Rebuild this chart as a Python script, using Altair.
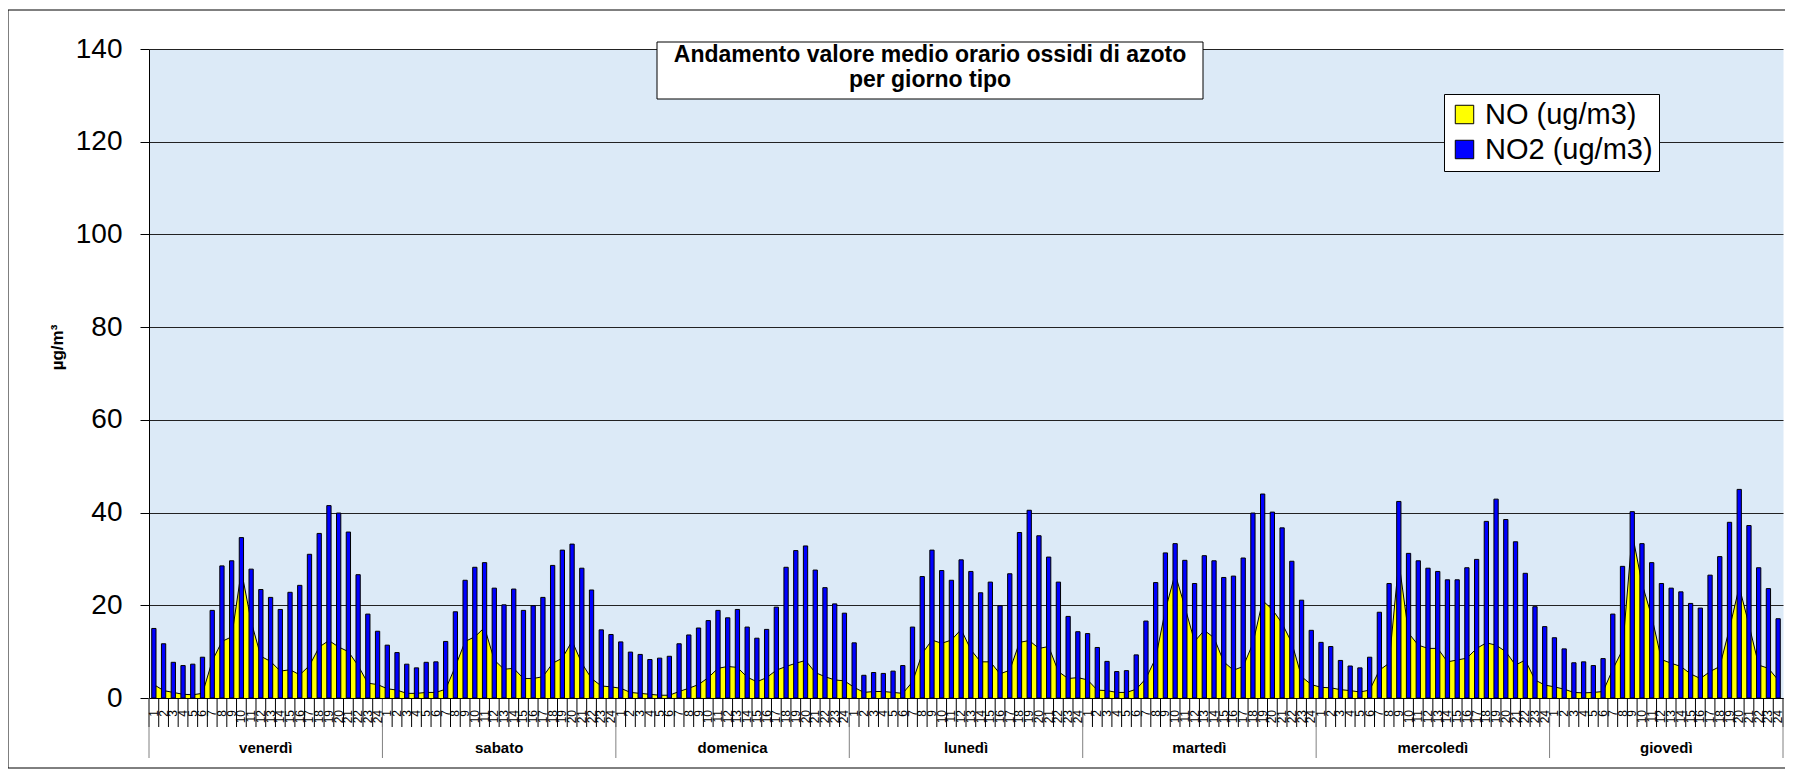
import altair as alt
import pandas as pd

days = ["venerdì", "sabato", "domenica", "lunedì", "martedì", "mercoledì", "giovedì"]
hours = list(range(1, 25))
S_NO = "NO (ug/m3)"
S_NO2 = "NO2 (ug/m3)"

no2_venerdi = [15.0, 11.7, 7.7, 7.0, 7.3, 8.8, 18.9, 28.5, 29.6, 34.6, 27.8, 23.4, 21.7, 19.1, 22.8, 24.3, 31.0, 35.5, 41.5, 39.9, 35.8, 26.6, 18.1, 14.4]
no2_sabato = [11.4, 9.8, 7.3, 6.5, 7.7, 7.8, 12.2, 18.6, 25.4, 28.2, 29.2, 23.7, 20.1, 23.5, 18.9, 19.9, 21.7, 28.6, 31.9, 33.2, 28.0, 23.3, 14.7, 13.7]
no2_domenica = [12.1, 9.9, 9.4, 8.3, 8.6, 9.0, 11.7, 13.6, 15.1, 16.7, 18.9, 17.3, 19.1, 15.3, 12.9, 14.8, 19.6, 28.2, 31.8, 32.8, 27.6, 23.8, 20.3, 18.3]
no2_lunedi = [11.9, 4.9, 5.5, 5.3, 5.8, 7.0, 15.3, 26.2, 31.9, 27.5, 25.4, 29.8, 27.3, 22.7, 25.0, 19.9, 26.8, 35.7, 40.5, 35.0, 30.4, 25.0, 17.6, 14.3]
no2_martedi = [13.9, 10.9, 7.9, 5.7, 5.9, 9.3, 16.6, 24.9, 31.3, 33.3, 29.7, 24.7, 30.7, 29.6, 26.0, 26.3, 30.2, 39.9, 44.0, 40.1, 36.7, 29.5, 21.1, 14.6]
no2_mercoledi = [12.0, 11.1, 8.1, 6.9, 6.5, 8.8, 18.5, 24.7, 42.4, 31.2, 29.6, 28.0, 27.3, 25.5, 25.5, 28.1, 29.9, 38.1, 42.9, 38.5, 33.7, 26.9, 19.7, 15.4]
no2_giovedi = [13.0, 10.6, 7.6, 7.8, 7.0, 8.5, 18.1, 28.4, 40.2, 33.3, 29.2, 24.7, 23.7, 22.9, 20.4, 19.4, 26.5, 30.5, 37.9, 45.0, 37.2, 28.1, 23.6, 17.1]

no_venerdi = [2.9, 1.6, 1.2, 0.8, 0.7, 1.0, 8.0, 12.2, 13.2, 27.5, 16.5, 9.0, 7.9, 5.8, 6.1, 5.0, 7.0, 11.0, 12.4, 11.0, 10.0, 7.0, 3.2, 2.9]
no_sabato = [2.0, 1.7, 1.0, 1.0, 1.2, 1.2, 1.9, 6.8, 12.2, 13.2, 15.2, 8.2, 6.2, 6.4, 4.2, 4.2, 4.6, 7.5, 8.6, 12.3, 7.5, 4.2, 2.6, 2.4]
no_domenica = [2.1, 1.2, 1.0, 0.8, 0.6, 0.6, 1.4, 2.1, 2.9, 4.4, 6.4, 6.8, 6.6, 4.5, 3.5, 4.4, 6.0, 6.8, 7.5, 8.1, 5.5, 4.6, 3.9, 3.7]
no_lunedi = [2.3, 1.2, 1.4, 1.4, 1.2, 1.0, 3.5, 9.6, 12.5, 11.8, 12.5, 14.8, 10.4, 7.8, 7.8, 5.2, 6.0, 12.0, 12.4, 10.7, 11.1, 5.7, 4.2, 4.4]
no_martedi = [3.9, 1.7, 1.6, 1.2, 1.2, 1.9, 4.2, 8.6, 19.0, 26.8, 19.7, 12.2, 14.6, 13.0, 7.8, 6.0, 6.8, 11.8, 21.0, 19.1, 16.1, 11.9, 4.6, 2.9]
no_mercoledi = [2.3, 2.2, 1.8, 1.6, 1.3, 1.7, 6.0, 7.5, 29.5, 14.0, 11.4, 10.7, 10.7, 7.8, 8.2, 8.6, 10.7, 11.9, 11.4, 10.0, 7.1, 8.2, 3.9, 2.8]
no_giovedi = [2.4, 1.9, 1.2, 1.1, 1.2, 1.4, 6.2, 10.4, 35.5, 24.7, 17.6, 8.3, 7.5, 6.8, 5.2, 4.2, 5.7, 6.8, 15.0, 24.0, 15.8, 7.1, 6.4, 3.9]

no2_by_day = [no2_venerdi, no2_sabato, no2_domenica, no2_lunedi, no2_martedi, no2_mercoledi, no2_giovedi]
no_by_day = [no_venerdi, no_sabato, no_domenica, no_lunedi, no_martedi, no_mercoledi, no_giovedi]

rows = []
for d, (day, n2, n) in enumerate(zip(days, no2_by_day, no_by_day)):
    for h, v2, v in zip(hours, n2, n):
        i = d * 24 + h - 1
        rows.append({"i": i, "xc": i + 0.5, "x0": i + 0.28, "x1": i + 0.72,
                     "day": day, "hour": str(h), "no2": v2, "no": v})
df = pd.DataFrame(rows)
nb = len(df)

bounds = pd.DataFrame({"b": list(range(nb + 1))})
day_bounds = pd.DataFrame({"b": list(range(0, nb + 1, 24))})
day_df = pd.DataFrame({"day": days, "c": [24 * k + 12 for k in range(len(days))]})
one = pd.DataFrame({"a": [0]})

W, H = 1634, 649
FONT = "Liberation Sans"

xs = alt.Scale(domain=[0, nb], nice=False, zero=False)
ys = alt.Scale(domain=[0, 140], nice=False)
xaxis = alt.Axis(labels=False, ticks=False, grid=False, title=None,
                 domainColor="black", domainWidth=1, zindex=1)
yaxis = alt.Axis(values=[0, 20, 40, 60, 80, 100, 120, 140], title="µg/m³",
                 labelFontSize=28, labelFont=FONT, labelColor="black", labelPadding=18,
                 tickSize=9, tickColor="black", domainColor="black",
                 grid=True, gridColor="#222222", gridWidth=1,
                 titleFontSize=17, titleFontWeight="bold", titleFont=FONT, titleColor="black",
                 titleAngle=270, titleX=-92, titleY=298, titleAlign="center", titleBaseline="middle")
cscale = alt.Scale(domain=[S_NO, S_NO2], range=["#FFFF00", "#0000FF"])
legend = alt.Legend(orient="none", legendX=1295, legendY=45, title=None,
                    fillColor="white", strokeColor="black", padding=6,
                    symbolType="square", symbolSize=340, symbolStrokeColor="black",
                    symbolStrokeWidth=1, symbolOpacity=1,
                    labelFontSize=29, labelFont=FONT, labelColor="black", labelLimit=400,
                    labelOffset=6, rowPadding=5)

base = alt.Chart(df)

area = base.transform_calculate(s=f"'{S_NO}'").mark_area(opacity=1).encode(
    x=alt.X("xc:Q", scale=xs, axis=xaxis),
    y=alt.Y("no:Q", scale=ys, axis=yaxis),
    color=alt.Color("s:N", scale=cscale, legend=legend),
)
outline = base.mark_line(color="black", strokeWidth=1).encode(
    x=alt.X("xc:Q", scale=xs, axis=xaxis),
    y=alt.Y("no:Q", scale=ys, axis=yaxis),
)
bars = base.transform_calculate(s=f"'{S_NO2}'").mark_bar(
    stroke="black", strokeWidth=1, opacity=1).encode(
    x=alt.X("x0:Q", scale=xs, axis=xaxis),
    x2="x1:Q",
    y=alt.Y("no2:Q", scale=ys, axis=yaxis),
    y2=alt.datum(0),
    color=alt.Color("s:N", scale=cscale, legend=legend),
)
hour_ticks = alt.Chart(bounds).mark_rule(color="black", strokeWidth=1).encode(
    x=alt.X("b:Q", scale=xs, axis=xaxis), y=alt.value(H), y2=alt.value(H + 29))
day_seps = alt.Chart(day_bounds).mark_rule(color="#808080", strokeWidth=1).encode(
    x=alt.X("b:Q", scale=xs, axis=xaxis), y=alt.value(H), y2=alt.value(H + 60))
hour_labels = base.mark_text(angle=270, align="right", baseline="middle",
                             fontSize=12, font=FONT, color="black").encode(
    x=alt.X("xc:Q", scale=xs, axis=xaxis), y=alt.value(H + 12), text="hour:N")
day_labels = alt.Chart(day_df).mark_text(fontSize=15, fontWeight="bold", font=FONT,
                                         color="black", baseline="middle").encode(
    x=alt.X("c:Q", scale=xs, axis=xaxis), y=alt.value(H + 50), text="day:N")

title_box = alt.Chart(one).mark_rect(fill="white", stroke="black", strokeWidth=1).encode(
    x=alt.value(508), x2=alt.value(1054), y=alt.value(-7), y2=alt.value(50))
title1 = alt.Chart(one).mark_text(text="Andamento valore medio orario ossidi di azoto",
                                  fontSize=23, fontWeight="bold", font=FONT, color="black",
                                  align="center", baseline="alphabetic").encode(
    x=alt.value(781), y=alt.value(13))
title2 = alt.Chart(one).mark_text(text="per giorno tipo",
                                  fontSize=23, fontWeight="bold", font=FONT, color="black",
                                  align="center", baseline="alphabetic").encode(
    x=alt.value(781), y=alt.value(38))
frame = alt.Chart(one).mark_rect(fill="transparent", stroke="black", strokeWidth=1).encode(
    x=alt.value(-141), x2=alt.value(W + 30), y=alt.value(-39), y2=alt.value(H + 70))

chart = alt.layer(
    area, outline, bars, hour_ticks, day_seps, hour_labels, day_labels,
    title_box, title1, title2, frame
).resolve_scale(color="shared").properties(
    width=W, height=H,
    autosize=alt.AutoSizeParams(type="none"),
    padding={"left": 141, "top": 41, "right": 2, "bottom": 72},
    background="white",
).configure(font=FONT).configure_view(fill="#DCEAF7", stroke="transparent")

chart.save("out.html", embed_options={"renderer": "svg", "actions": False})
